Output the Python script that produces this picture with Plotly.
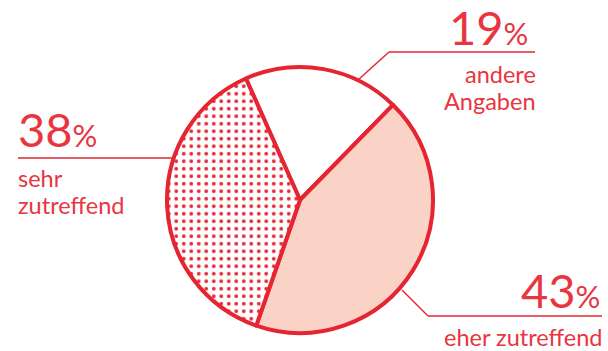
import plotly.graph_objects as go

# ---- data ----
categories = ["andere Angaben", "eher zutreffend", "sehr zutreffend"]
values = [19, 43, 38]
label_lines = [["andere", "Angaben"], ["eher zutreffend"], ["sehr", "zutreffend"]]

# ---- style ----
W, H = 608, 351
RED = "#E52531"
TXT = "#E8353F"
PEACH = "#FBD3C6"
fills = ["white", PEACH, "white"]
patterns = ["", "", "."]
FONT = "Lato"

def px(x):
    return x / W

def py(y):
    return 1 - y / H

cx, cy, r = 300, 200, 133

fig = go.Figure(go.Pie(
    labels=categories,
    values=values,
    sort=False,
    direction="clockwise",
    rotation=-24,
    textinfo="none",
    hoverinfo="none",
    showlegend=False,
    marker=dict(
        colors=fills,
        line=dict(color=RED, width=4),
        pattern=dict(shape=patterns, fgcolor=RED, bgcolor="white",
                     size=7.5, solidity=0.2, fillmode="replace"),
    ),
    domain=dict(x=[px(cx - r), px(cx + r)], y=[py(cy + r), py(cy - r)]),
))

BIG, PCT, SMALL = 47, 31, 23.5
ASC = 0.987
PAD = 2

def top_for_baseline(b, f):
    return b - PAD - ASC * f

# label layout: (anchor, x number, number baseline, x sub-lines, sub-line baselines)
layout_spec = {
    "andere Angaben": ("right", 530, 45, 538, [83, 110]),
    "eher zutreffend": ("right", 602, 308, 604, [346]),
    "sehr zutreffend": ("left", 16, 147, 16, [187, 214]),
}

annotations = []
for cat, val, lines in zip(categories, values, label_lines):
    anc, xn, bn, xs, bs = layout_spec[cat]
    annotations.append(dict(
        x=px(xn), y=py(top_for_baseline(bn, BIG)), xref="paper", yref="paper",
        xanchor=anc, yanchor="top", showarrow=False,
        text=f"{val}<span style='font-size:{PCT}px'>%</span>",
        font=dict(family=FONT, size=BIG, color=TXT),
    ))
    for line, b in zip(lines, bs):
        annotations.append(dict(
            x=px(xs), y=py(top_for_baseline(b, SMALL)), xref="paper", yref="paper",
            xanchor=anc, yanchor="top", showarrow=False, text=line,
            font=dict(family=FONT, size=SMALL, color=TXT),
        ))

# leader lines (pixel paths)
leaders = [
    [(358, 80), (389, 52), (535, 52)],
    [(402, 290), (428, 316), (602, 316)],
    [(18, 158), (174, 158)],
]
shapes = []
for pts in leaders:
    for (x0, y0), (x1, y1) in zip(pts[:-1], pts[1:]):
        shapes.append(dict(type="line", xref="paper", yref="paper",
                           x0=px(x0), y0=py(y0), x1=px(x1), y1=py(y1),
                           line=dict(color=RED, width=1.5), layer="below"))

fig.update_layout(
    width=W, height=H, autosize=False,
    margin=dict(l=0, r=0, t=0, b=0),
    paper_bgcolor="white", plot_bgcolor="white",
    annotations=annotations, shapes=shapes,
)

fig.write_html("out.html", config={"displayModeBar": False})
